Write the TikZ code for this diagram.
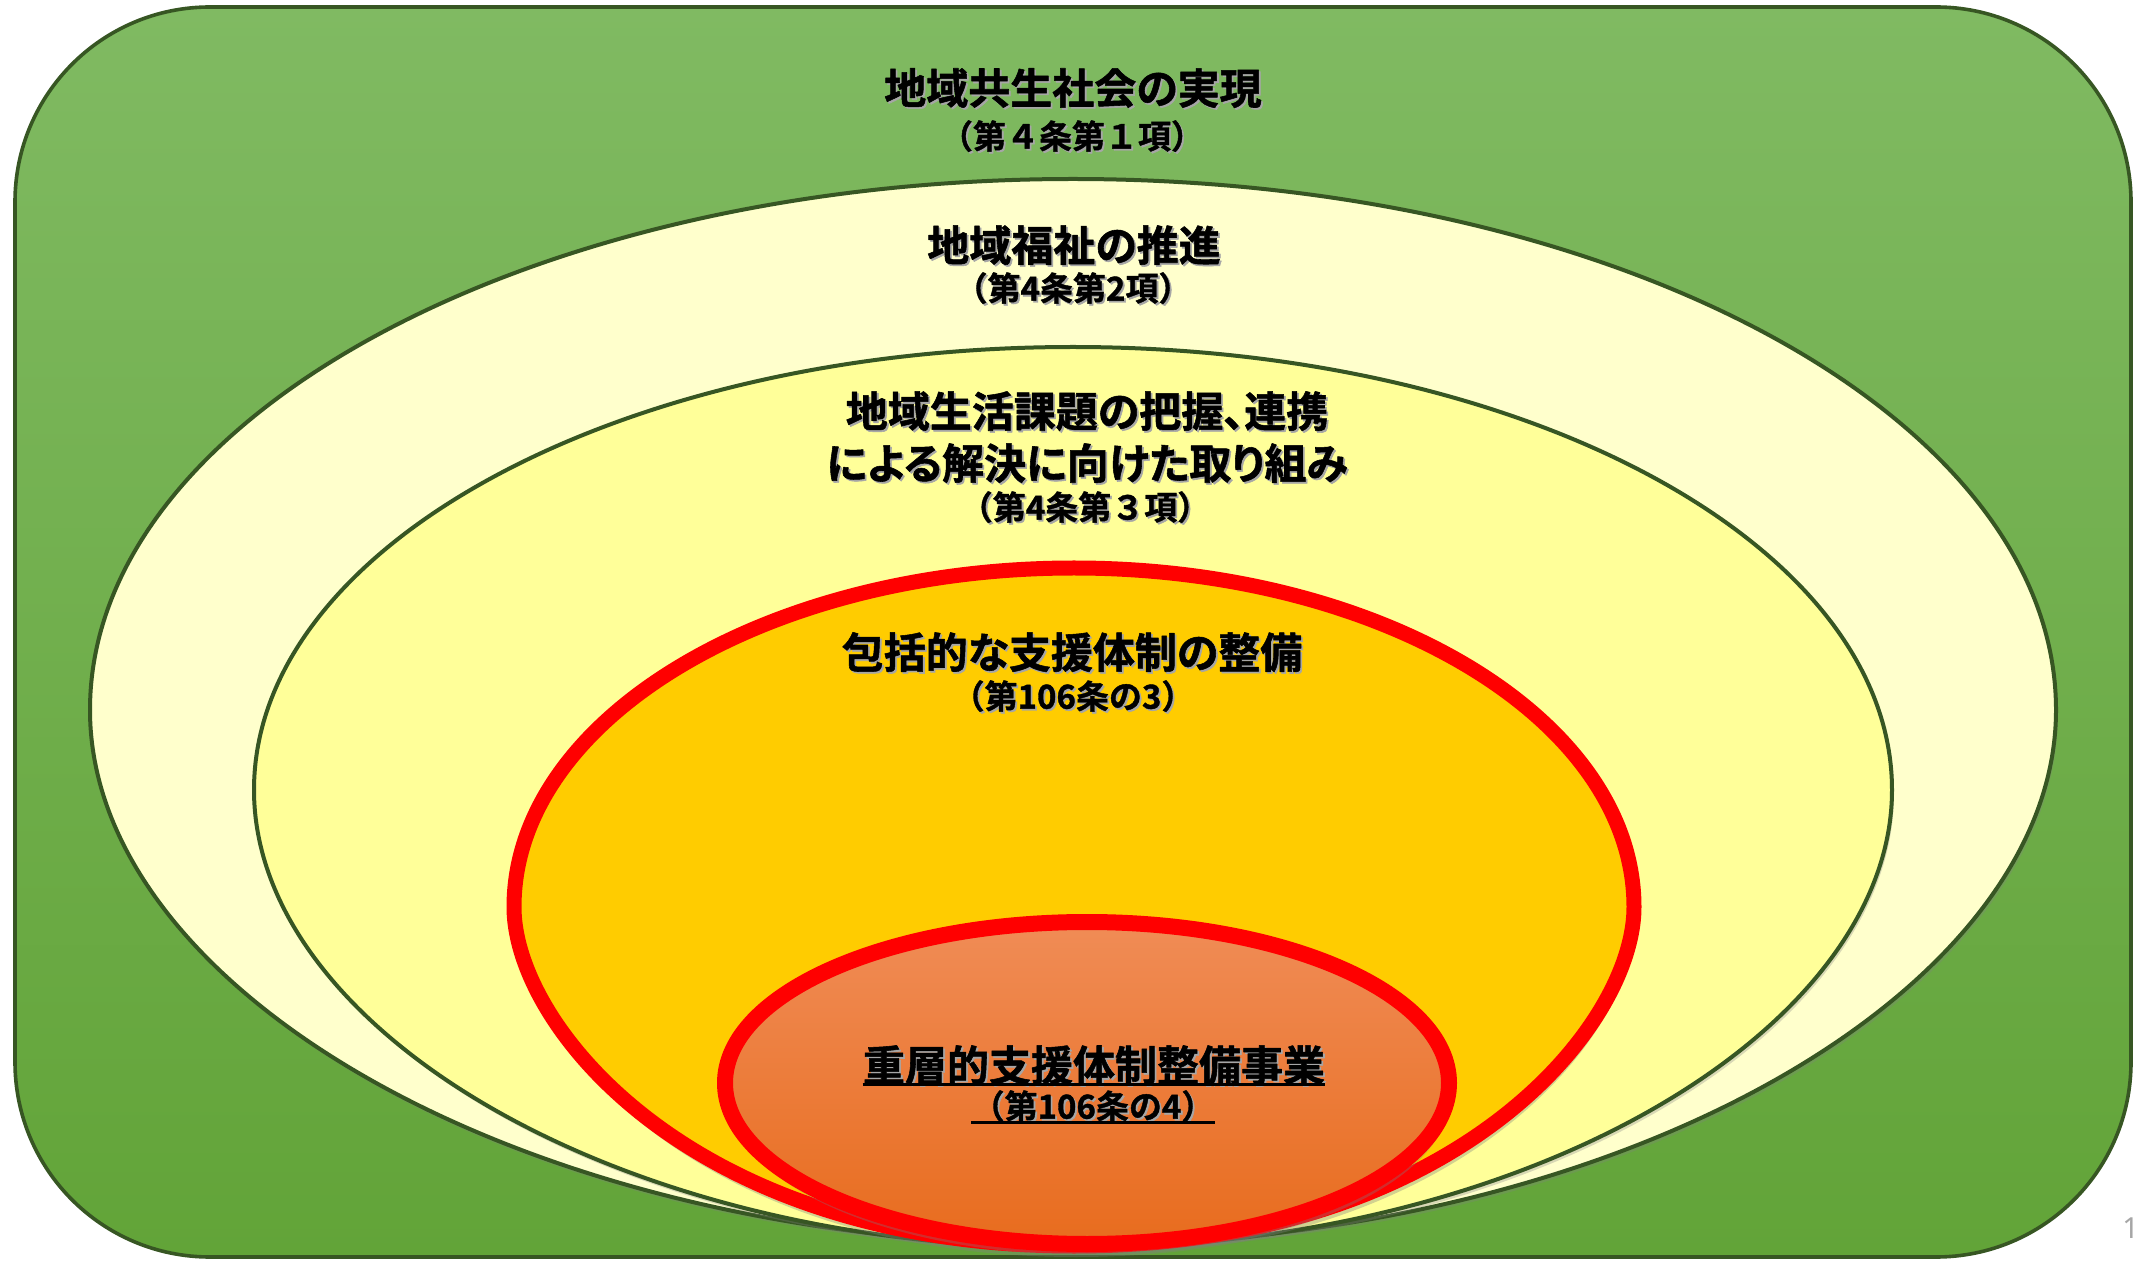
\documentclass[tikz,border=0pt]{standalone}
\usepackage{fontspec}
\usetikzlibrary{shadows}
\newfontfamily\jptitle[RawFeature=+palt,FakeBold=1.3]{Noto Sans CJK JP Bold}
\newfontfamily\jpsub[FakeBold=1.1]{Noto Sans CJK JP Bold}
\newfontfamily\pagenum{Noto Sans}
\definecolor{framegreen}{RGB}{55,86,35}
\definecolor{greentop}{RGB}{128,186,98}
\definecolor{greenbot}{RGB}{98,164,56}
\definecolor{creamfill}{RGB}{255,255,204}
\definecolor{yellowfill}{RGB}{255,255,153}
\definecolor{goldfill}{RGB}{255,204,0}
\definecolor{orangetop}{RGB}{240,140,86}
\definecolor{orangebot}{RGB}{232,108,30}
\definecolor{pagegray}{RGB}{166,166,166}
% text with a soft shadow below right
\newcommand{\shd}[1]{\rlap{\hspace{0.9pt}\raisebox{-0.9pt}{\color{black!35}#1}}#1}
\begin{document}
\begin{tikzpicture}[x=0.5pt,y=-0.5pt,line join=round,
	frame/.style={draw=framegreen,line width=1.8pt,rounded corners=97.5pt,top color=greentop,bottom color=greenbot},
	ring/.style={draw=framegreen,line width=2pt,drop shadow={shadow xshift=1pt,shadow yshift=-2pt,opacity=.3}},
	redring/.style={draw=red,line width=7.5pt,drop shadow={shadow xshift=1pt,shadow yshift=-5.5pt,opacity=.35}},
	title/.style={inner sep=0pt,font=\jptitle\fontsize{21pt}{26pt}\selectfont,align=center},
	sub/.style={inner sep=0pt,font=\jpsub\fontsize{16.5pt}{20pt}\selectfont},
	uline/.style={line width=1.5pt}]
	\useasboundingbox (0,0) rectangle (2138,1261);
	%outer frame
	\path[frame] (15,7) rectangle (2131,1257);
	%nested shapes
	\path[ring,fill=creamfill] (90,710) .. controls +(0,-293) and +(-543,0) .. (1073,179)
		.. controls +(543,0) and +(0,-293) .. (2056,710)
		.. controls +(0,280) and +(550,0) .. (1073,1245)
		.. controls +(-550,0) and +(0,280) .. (90,710) -- cycle;
	\path[ring,fill=yellowfill] (254,790) .. controls +(0,-245) and +(-452,0) .. (1073,347)
		.. controls +(452,0) and +(0,-245) .. (1892,790)
		.. controls +(0,238) and +(458,0) .. (1073,1248)
		.. controls +(-458,0) and +(0,238) .. (254,790) -- cycle;
	\path[redring,fill=goldfill] (514,907) .. controls +(0,-187) and +(-309,0) .. (1074,568)
		.. controls +(309,0) and +(0,-187) .. (1634,907)
		.. controls +(0,120) and +(380,0) .. (1074,1246)
		.. controls +(-380,0) and +(0,120) .. (514,907) -- cycle;
	\path[redring,line width=8pt,top color=orangetop,bottom color=orangebot] (1087,1083) ellipse [x radius=362,y radius=161];
	%texts
	\node[title] (society) at (1073,89) {\shd{地域共生社会の実現}};
	\node[sub] (societyno) at (1072,137) {\shd{（第４条第１項）}};
	\node[title] (welfare) at (1074,246) {\shd{地域福祉の推進}};
	\node[sub] (welfareno) at (1073,289) {\shd{（第4条第2項）}};
	\node[title] (issues) at (1087,438) {\shd{地域生活課題の把握、連携}\\\shd{による解決に向けた取り組み}};
	\node[sub] (issuesno) at (1085,508) {\shd{（第4条第３項）}};
	\node[title] (system) at (1072,653) {\shd{包括的な支援体制の整備}};
	\node[sub] (systemno) at (1073,697) {\shd{（第106条の3）}};
	\node[title] (project) at (1094,1066) {\shd{重層的支援体制整備事業}};
	\node[sub] (projectno) at (1093,1107) {\shd{（第106条の4）}};
	\draw[uline] ([yshift=-2pt]project.base west) -- ([yshift=-2pt]project.base east);
	\draw[uline,line width=1.2pt] ([yshift=-2pt]projectno.base west) -- ([yshift=-2pt]projectno.base east);
	%page number
	\node[anchor=west,inner sep=0pt,text=pagegray,font=\pagenum\fontsize{14.5pt}{16pt}\selectfont] (pageno) at (2122,1228) {1};
\end{tikzpicture}
\end{document}
